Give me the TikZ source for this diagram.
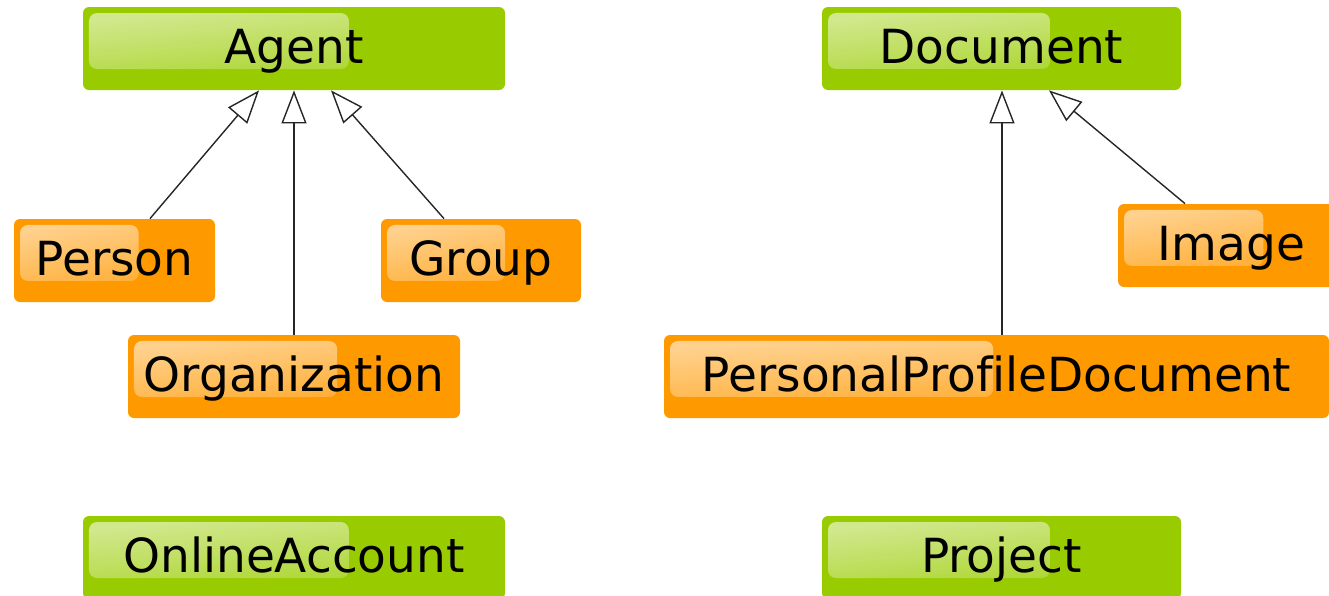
\documentclass[tikz,border=0pt]{standalone}
\usepackage{fontspec}
\setmainfont{DejaVu Sans}[Ligatures=CommonOff]
\usetikzlibrary{arrows.meta,calc,fadings}
\definecolor{foafgreen}{HTML}{99CC00}
\definecolor{foaforange}{HTML}{FF9900}
\tikzfading[name=gloss, top color=transparent!45, bottom color=transparent!88]
\tikzset{
  box/.style 2 args={rectangle, rounded corners=3pt, inner sep=0pt, fill=#1,
    font=\fontsize{23.5}{28}\selectfont, text height=21.5pt, text depth=7pt,
    minimum height=41.5pt,
    path picture={
      \fill[white, rounded corners=4pt, path fading=gloss, fit fading=true, fading angle=25]
        ($(path picture bounding box.north west)+(6,6)$) rectangle
        ($(path picture bounding box.north west)!#2!(path picture bounding box.north east)+(0,62)$);
    }},
  cls/.style={box={foafgreen}{#1}},
  sub/.style={box={foaforange}{#1}},
  inh/.style={draw=black!85, line width=0.7pt, -{Triangle[open,length=16.5pt,width=12.5pt,fill=white]}},
}
\begin{document}
\begin{tikzpicture}[x=0.5pt,y=-0.5pt]
\useasboundingbox (0,0) rectangle (1329,595);
\clip (0,0) rectangle (1329,595);
\node[cls=0.63, minimum width=211pt] (agent) at (294,48.5) {Agent};
\node[cls=0.635, minimum width=179.5pt] (document) at (1001.5,48.5) {Document};
\node[sub=0.62, minimum width=100.5pt] (person) at (114.5,260.5) {Person};
\node[sub=0.62, minimum width=100pt] (group) at (481,260.5) {Group};
\node[sub=0.63, minimum width=166pt] (organization) at (294,376.5) {Organization};
\node[sub=0.64, minimum width=113.5pt] (image) at (1231.5,245.5) {Image};
\node[sub=0.495, minimum width=332.5pt] (ppd) at (996.5,376.5) {PersonalProfileDocument};
\node[cls=0.63, minimum width=211pt] (online) at (294,557.5) {OnlineAccount};
\node[cls=0.635, minimum width=179.5pt] (project) at (1001.5,557.5) {Project};
\draw[inh] ([xshift=17.75pt]person.north) -- ([xshift=-17.5pt]agent.south);
\draw[inh] (organization.north) -- (agent.south);
\draw[inh] ([xshift=-18.5pt]group.north) -- ([xshift=18.5pt]agent.south);
\draw[inh] ([xshift=2.75pt]ppd.north) -- ([xshift=0.25pt]document.south);
\draw[inh] ([xshift=-23.25pt]image.north) -- ([xshift=23.75pt]document.south);
\end{tikzpicture}
\end{document}
